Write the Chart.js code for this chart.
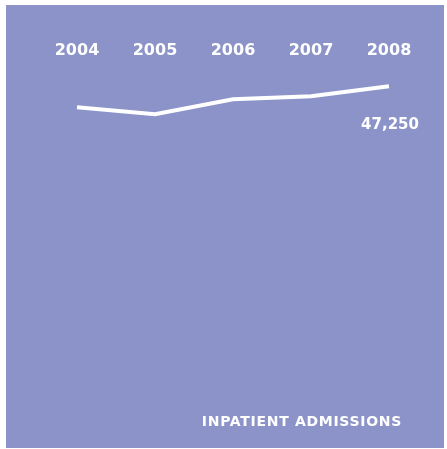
<!DOCTYPE html>
<html>
<head>
<meta charset="utf-8">
<script src="https://cdn.jsdelivr.net/npm/chart.js@4"></script>
<style>
  html, body { margin: 0; padding: 0; background: #fff; }
  #wrap { width: 447px; height: 449px; }
</style>
</head>
<body>
<div id="wrap"><canvas id="chart" width="447" height="449"></canvas></div>
<script>
'use strict';

// data
let years = ['2004', '2005', '2006', '2007', '2008'];
let admissions = [45150, 44450, 45950, 46250, 47250];
let lastLabel = '47,250';
let chartTitle = 'INPATIENT ADMISSIONS';

let purple = '#8b93c8';

// purple panel behind everything + the two text bits
const panelPlugin = {
  id: 'panel',
  beforeDraw(chart) {
    const ctx = chart.ctx;
    ctx.save();
    ctx.fillStyle = purple;
    ctx.fillRect(6, 5, 438, 443);
    ctx.restore();
  },
  afterDraw(chart) {
    const ctx = chart.ctx;
    const meta = chart.getDatasetMeta(0);
    const last = meta.data[meta.data.length - 1];
    ctx.save();
    ctx.fillStyle = '#fff';
    ctx.font = 'bold 15px "DejaVu Sans"';
    ctx.textAlign = 'center';
    ctx.textBaseline = 'middle';
    ctx.fillText(lastLabel, last.x + 1, last.y + 39);
    ctx.font = 'bold 14px "DejaVu Sans"';
    ctx.letterSpacing = '0.7px';
    ctx.textAlign = 'right';
    ctx.fillText(chartTitle, 402, 422);
    ctx.restore();
  }
};

const ctx = document.getElementById('chart').getContext('2d');
const myChart = new Chart(ctx, {
  type: 'line',
  data: {
    labels: years,
    datasets: [{
      data: admissions,
      borderColor: '#fff',
      borderWidth: 4,
      pointRadius: 0,
      tension: 0,
      borderCapStyle: 'butt'
    }]
  },
  options: {
    responsive: false,
    animation: false,
    layout: {
      padding: { left: 77, right: 58, top: 37, bottom: 9 }
    },
    plugins: {
      legend: { display: false },
      tooltip: { enabled: false }
    },
    scales: {
      x: {
        position: 'top',
        offset: false,
        grid: { display: false, drawTicks: false },
        border: { display: false },
        ticks: {
          color: '#fff',
          padding: 4,
          maxRotation: 0,
          autoSkip: false,
          font: { family: 'DejaVu Sans', weight: 'bold', size: 16 }
        }
      },
      y: {
        display: false,
        min: 11850,
        max: 49450
      }
    }
  },
  plugins: [panelPlugin]
});
</script>
</body>
</html>
